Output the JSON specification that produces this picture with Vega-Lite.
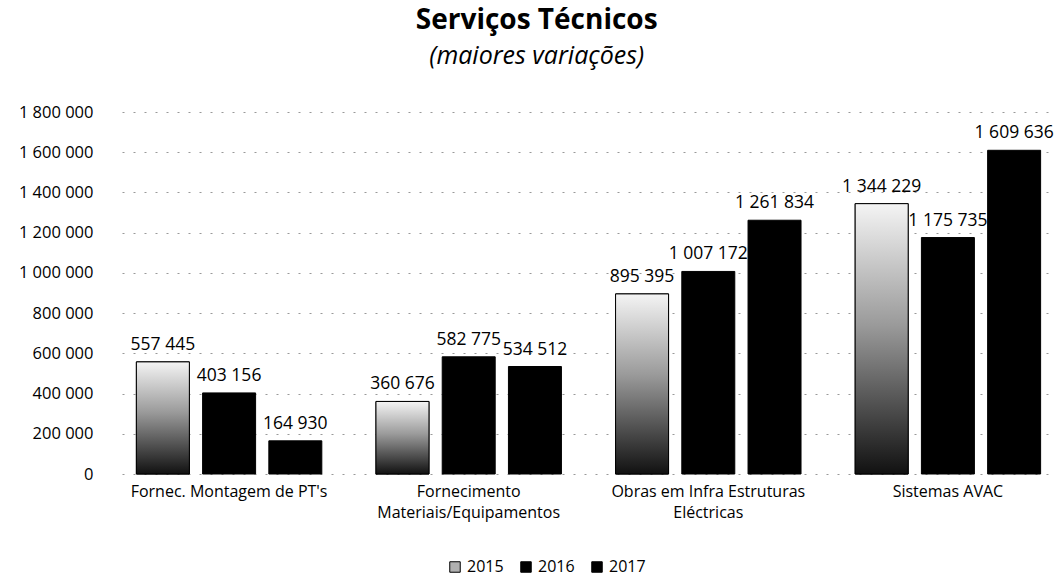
{
  "$schema": "https://vega.github.io/schema/vega-lite/v6.json",
  "width": 933,
  "height": 362,
  "autosize": {"type": "none"},
  "padding": {"left": 122, "right": 6, "top": 112, "bottom": 105},
  "background": "white",
  "title": {
    "text": "Serviços Técnicos",
    "subtitle": "(maiores variações)",
    "anchor": "middle",
    "frame": "bounds",
    "font": "Open Sans",
    "fontSize": 28,
    "fontWeight": "bold",
    "color": "#000",
    "subtitleFont": "Open Sans",
    "subtitleFontSize": 25,
    "subtitleFontStyle": "italic",
    "subtitleColor": "#000",
    "subtitlePadding": 9,
    "offset": 35
  },
  "data": {
    "values": [
      {"cat": "Fornec. Montagem de PT's", "year": "2015", "value": 557445},
      {"cat": "Fornec. Montagem de PT's", "year": "2016", "value": 403156},
      {"cat": "Fornec. Montagem de PT's", "year": "2017", "value": 164930},
      {"cat": "Fornecimento|Materiais/Equipamentos", "year": "2015", "value": 360676},
      {"cat": "Fornecimento|Materiais/Equipamentos", "year": "2016", "value": 582775},
      {"cat": "Fornecimento|Materiais/Equipamentos", "year": "2017", "value": 534512},
      {"cat": "Obras em Infra Estruturas|Eléctricas", "year": "2015", "value": 895395},
      {"cat": "Obras em Infra Estruturas|Eléctricas", "year": "2016", "value": 1007172},
      {"cat": "Obras em Infra Estruturas|Eléctricas", "year": "2017", "value": 1261834},
      {"cat": "Sistemas AVAC", "year": "2015", "value": 1344229},
      {"cat": "Sistemas AVAC", "year": "2016", "value": 1175735},
      {"cat": "Sistemas AVAC", "year": "2017", "value": 1609636}
    ]
  },
  "encoding": {
    "x": {
      "field": "cat",
      "type": "nominal",
      "sort": null,
      "title": null,
      "scale": {"paddingInner": 0.226, "paddingOuter": 0.06},
      "axis": {
        "labelAngle": 0,
        "labelExpr": "split(datum.label, '|')",
        "labelFont": "Open Sans",
        "labelFontSize": 16,
        "labelColor": "#000",
        "labelPadding": 9,
        "labelLineHeight": 21,
        "labelLimit": 0,
        "domain": false,
        "ticks": false
      }
    },
    "xOffset": {
      "field": "year",
      "type": "nominal",
      "scale": {"paddingInner": 0.2, "paddingOuter": 0}
    },
    "y": {
      "field": "value",
      "type": "quantitative",
      "title": null,
      "scale": {"domain": [0, 1800000], "nice": false},
      "axis": {
        "values": [0, 200000, 400000, 600000, 800000, 1000000, 1200000, 1400000, 1600000, 1800000],
        "format": ",d",
        "labelFont": "Open Sans",
        "labelFontSize": 16.5,
        "labelColor": "#000",
        "labelPadding": 29,
        "domain": false,
        "ticks": false,
        "grid": true,
        "gridColor": "#999",
        "gridDash": [2, 9],
        "gridWidth": 1
      }
    }
  },
  "layer": [
    {
      "mark": {"type": "bar", "stroke": "#000", "strokeWidth": 1},
      "encoding": {
        "color": {
          "field": "year",
          "type": "nominal",
          "title": null,
          "scale": {"domain": ["2015", "2016", "2017"], "range": ["#b0b0b0", "#000000", "#000000"]},
          "legend": {
            "orient": "none",
            "legendX": 325,
            "legendY": 447,
            "direction": "horizontal",
            "symbolType": "square",
            "symbolSize": 110,
            "symbolStrokeColor": "#000",
            "symbolStrokeWidth": 1,
            "labelFont": "Open Sans",
            "labelFontSize": 16,
            "labelColor": "#000",
            "columnPadding": 14
          }
        }
      }
    },
    {
      "transform": [{"filter": "datum.year == '2015'"}],
      "mark": {
        "type": "bar",
        "stroke": "#000",
        "strokeWidth": 1,
        "color": {
          "gradient": "linear",
          "x1": 0, "y1": 0, "x2": 0, "y2": 1,
          "stops": [
            {"offset": 0, "color": "#f4f4f4"},
            {"offset": 0.45, "color": "#9a9a9a"},
            {"offset": 1, "color": "#111111"}
          ]
        }
      }
    },
    {
      "mark": {"type": "text", "baseline": "bottom", "dy": -8, "font": "Open Sans", "fontSize": 17.5, "color": "#000"},
      "encoding": {
        "text": {"field": "value", "type": "quantitative", "format": ",d"}
      }
    }
  ],
  "config": {
    "view": {"stroke": null},
    "locale": {
      "number": {"decimal": ",", "thousands": " ", "grouping": [3], "currency": ["", " €"]}
    }
  }
}
